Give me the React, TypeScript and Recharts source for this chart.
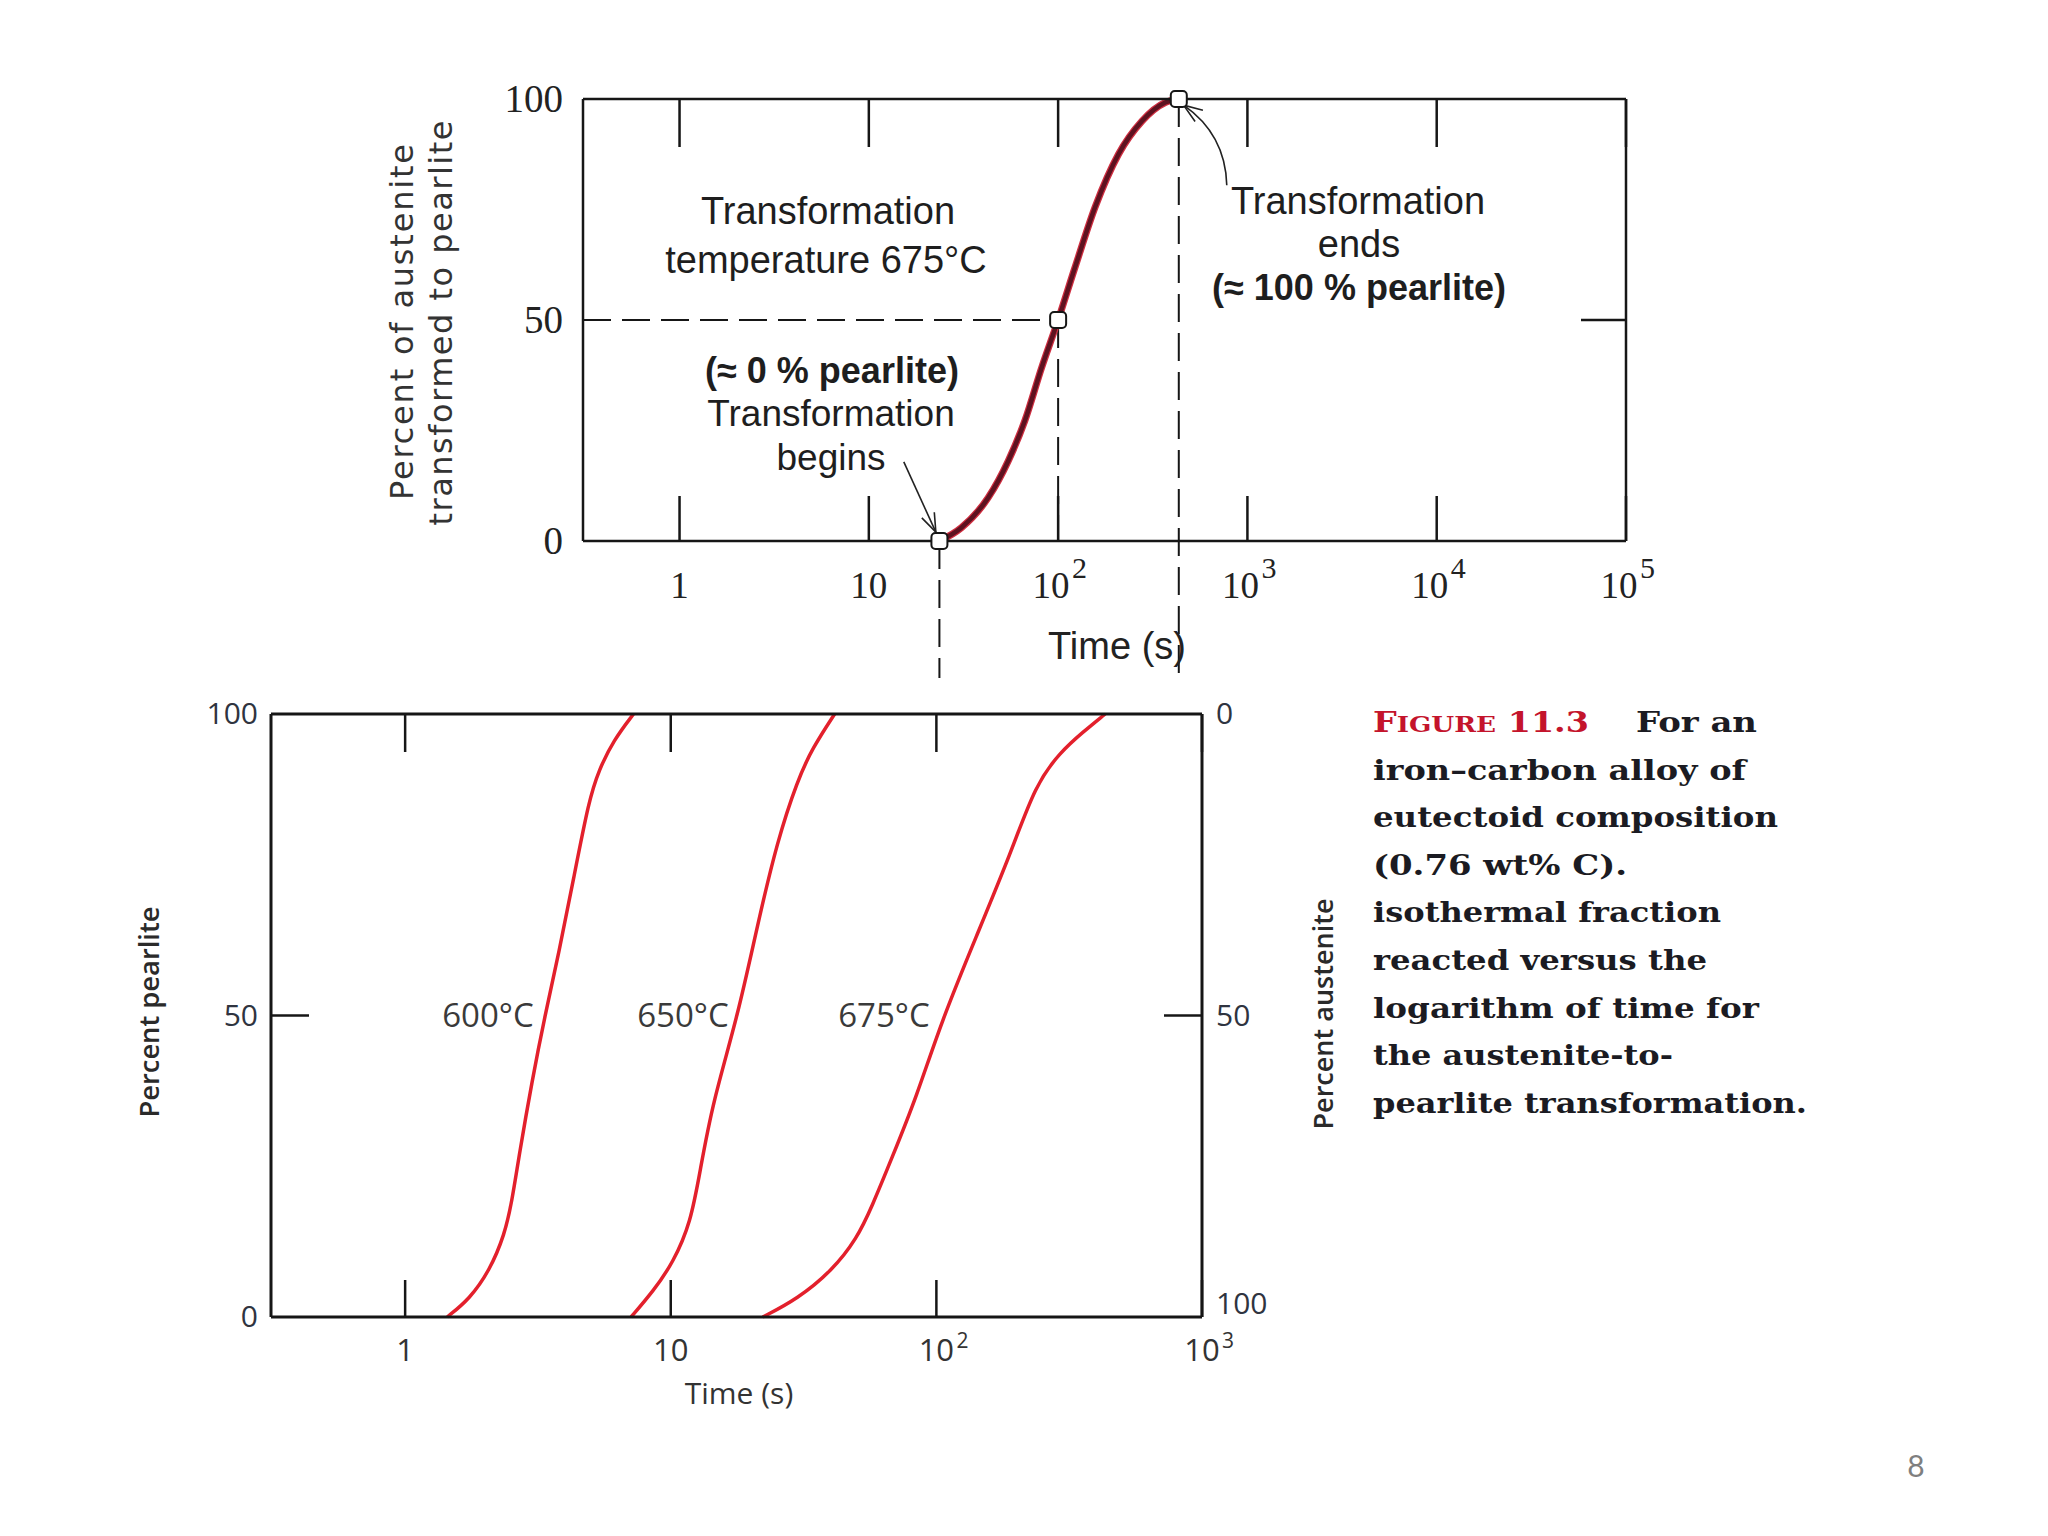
import React from "react";
import {
  ComposedChart,
  Line,
  Scatter,
  XAxis,
  YAxis,
  ReferenceLine,
} from "recharts";

// top chart: 675°C transformation curve (time in s, percent pearlite)
const topTime = [23.6, 30.8, 42.7, 54.5, 66.7, 81.8, 100, 122.8, 156.7, 208.4, 277.3, 368, 434];
const topPearlite = [0, 3.0, 9.8, 18.1, 27.2, 39.2, 50, 61.9, 75.5, 87.5, 95.0, 99.2, 100];

// begins / half / ends markers
const markTime = [23.6, 100, 434];
const markPearlite = [0, 50, 100];

// arrow anchors (data coords): [tailTime, tailPct, tipTime, tipPct]
const beginsArrow = [15.3, 17.9, 22.6, 2.0];
const endsArrow = [778, 80.5, 460, 98.6];

const topXTicks = [1, 10, 100, 1000, 10000, 100000];
const topYTicks = [0, 50, 100];

// bottom chart: three temperatures
const time600 = [1.44, 1.75, 2.08, 2.37, 2.52, 2.69, 3.0, 3.36, 3.79, 4.32, 4.92, 5.36, 6.1, 7.24];
const pearlite600 = [0, 3, 7.7, 13.7, 19, 27, 39, 50, 60.3, 73, 85.7, 90.7, 95.7, 100];

const time650 = [7.09, 8.6, 10.2, 11.9, 12.9, 14.4, 17.9, 21.2, 25.2, 30.0, 34.1, 41.4];
const pearlite650 = [0, 4.3, 9, 15.7, 24.3, 35.7, 50, 65, 79, 89, 94.3, 100];

const time675 = [22.2, 30, 40.5, 50.2, 57.2, 67.9, 84.2, 104.4, 141, 191, 236, 293, 356, 432];
const pearlite675 = [0, 3, 7.7, 13, 18.3, 26.3, 36.5, 49, 63, 77, 88.3, 93.7, 97, 100];

const bottomXTicks = [1, 10, 100, 1000];
const bottomYTicks = [0, 50, 100];
const curveLabels = ["600°C", "650°C", "675°C"];

const captionLines = [
  "iron–carbon alloy of",
  "eutectoid composition",
  "(0.76 wt% C).",
  "isothermal fraction",
  "reacted versus the",
  "logarithm of time for",
  "the austenite-to-",
  "pearlite transformation.",
];
const captionWidths = [373, 405, 254, 348, 334, 386, 300, 434];

const zip = (t: number[], p: number[]) => t.map((v, i) => ({ t: v, p: p[i] }));

const TOP_X_DOMAIN = [Math.pow(10, -0.51), 100000];
const BOT_X_DOMAIN = [Math.pow(10, -0.505), 1000];

const INK = "#161616";
const SERIF = "'Liberation Serif', 'Times New Roman', serif";
const SANS = "'Liberation Sans', Arial, sans-serif";
const OPEN = "'Open Sans', 'Noto Sans', sans-serif";

// ---------- tick renderers ----------
function TopBottomTick(props: any) {
  const { x, y, payload } = props;
  const exp = Math.round(Math.log10(payload.value));
  return (
    <g>
      <line x1={x} y1={y} x2={x} y2={y - 45} stroke={INK} strokeWidth={2.5} />
      {exp < 2 ? (
        <text x={x} y={y + 57} textAnchor="middle" fontFamily={SERIF} fontSize={37} fill="#222">
          {exp === 0 ? "1" : "10"}
        </text>
      ) : (
        <g fontFamily={SERIF} fill="#222">
          <text x={x - 7} y={y + 57} textAnchor="middle" fontSize={37}>10</text>
          <text x={x + 14} y={y + 37} fontSize={30}>{exp}</text>
        </g>
      )}
    </g>
  );
}

function TopTopTick(props: any) {
  const { x, y } = props;
  return <line x1={x} y1={y} x2={x} y2={y + 48} stroke={INK} strokeWidth={2.5} />;
}

function TopLeftTick(props: any) {
  const { x, y, payload } = props;
  return (
    <text x={x - 20} y={y + 13} textAnchor="end" fontFamily={SERIF} fontSize={39} fill="#222">
      {payload.value}
    </text>
  );
}

function TopRightTick(props: any) {
  const { x, y } = props;
  return <line x1={x} y1={y} x2={x - 45} y2={y} stroke={INK} strokeWidth={2.5} />;
}

function BotBottomTick(props: any) {
  const { x, y, payload } = props;
  const exp = Math.round(Math.log10(payload.value));
  return (
    <g>
      <line x1={x} y1={y} x2={x} y2={y - 37} stroke={INK} strokeWidth={2.5} />
      <g fontFamily={OPEN} fill="#333">
        <text x={x} y={y + 44} textAnchor="middle" fontSize={31}>
          {exp === 0 ? "1" : "10"}
        </text>
        {exp >= 2 && (
          <text x={x + 20} y={y + 31} fontSize={21}>{exp}</text>
        )}
      </g>
    </g>
  );
}

function BotTopTick(props: any) {
  const { x, y } = props;
  return <line x1={x} y1={y} x2={x} y2={y + 38} stroke={INK} strokeWidth={2.5} />;
}

function BotLeftTick(props: any) {
  const { x, y, payload } = props;
  return (
    <g>
      {payload.value === 50 && (
        <line x1={x} y1={y} x2={x + 38} y2={y} stroke={INK} strokeWidth={2.5} />
      )}
      <text x={x - 13} y={y + 10} textAnchor="end" fontFamily={OPEN} fontSize={30} fill="#2f3440">
        {payload.value}
      </text>
    </g>
  );
}

function BotRightTick(props: any) {
  const { x, y, payload } = props;
  return (
    <g>
      {payload.value === 50 && (
        <line x1={x} y1={y} x2={x - 38} y2={y} stroke={INK} strokeWidth={2.5} />
      )}
      <text
        x={x + 14}
        y={y + (payload.value === 100 ? -3 : 10)}
        fontFamily={OPEN}
        fontSize={30}
        fill="#2f3440"
      >
        {payload.value}
      </text>
    </g>
  );
}

// ---------- marks ----------
function MarkerShape(props: any) {
  const { cx, cy } = props;
  return (
    <rect x={cx - 8} y={cy - 8} width={16} height={16} rx={4} fill="#fff" stroke={INK} strokeWidth={2} />
  );
}

function arrowHead(tx: number, ty: number, fx: number, fy: number) {
  const a = Math.atan2(ty - fy, tx - fx);
  const len = 20;
  const spread = 0.35;
  const p1 = [tx - len * Math.cos(a - spread), ty - len * Math.sin(a - spread)];
  const p2 = [tx - len * Math.cos(a + spread), ty - len * Math.sin(a + spread)];
  return `M${p1[0]},${p1[1]} L${tx},${ty} L${p2[0]},${p2[1]}`;
}

function StraightArrow(props: any) {
  const { x1, y1, x2, y2 } = props;
  return (
    <g fill="none" stroke="#222" strokeWidth={1.6}>
      <line x1={x1} y1={y1} x2={x2} y2={y2} />
      <path d={arrowHead(x2, y2, x1, y1)} />
    </g>
  );
}

function CurvedArrow(props: any) {
  const { x1, y1, x2, y2 } = props;
  const dx = x2 - x1;
  const dy = y2 - y1;
  const len = Math.hypot(dx, dy) || 1;
  const bend = 23;
  const cx = (x1 + x2) / 2 + (-dy / len) * bend;
  const cy = (y1 + y2) / 2 + (dx / len) * bend;
  return (
    <g fill="none" stroke="#222" strokeWidth={1.6}>
      <path d={`M${x1},${y1} Q${cx},${cy} ${x2},${y2}`} />
      <path d={arrowHead(x2, y2, cx, cy)} />
    </g>
  );
}

function TopChart() {
  const curve = zip(topTime, topPearlite);
  const marks = zip(markTime, markPearlite);
  const dash = "28 11";
  return (
    <ComposedChart width={1340} height={660} margin={{ top: 9, right: 0, bottom: 79, left: 0 }}>
      <XAxis
        xAxisId="x"
        dataKey="t"
        type="number"
        scale="log"
        domain={TOP_X_DOMAIN}
        ticks={topXTicks}
        interval={0}
        height={100}
        tickSize={0}
        tickMargin={0}
        tickLine={false}
        axisLine={{ stroke: INK, strokeWidth: 2.5 }}
        tick={<TopBottomTick />}
      />
      <XAxis
        xAxisId="xt"
        orientation="top"
        dataKey="t"
        type="number"
        scale="log"
        domain={TOP_X_DOMAIN}
        ticks={topXTicks}
        interval={0}
        height={30}
        tickSize={0}
        tickMargin={0}
        tickLine={false}
        axisLine={{ stroke: INK, strokeWidth: 2.5 }}
        tick={<TopTopTick />}
      />
      <YAxis
        yAxisId="y"
        dataKey="p"
        type="number"
        domain={[0, 100]}
        ticks={topYTicks}
        interval={0}
        width={223}
        tickSize={0}
        tickMargin={0}
        tickLine={false}
        axisLine={{ stroke: INK, strokeWidth: 2.5 }}
        tick={<TopLeftTick />}
      />
      <YAxis
        yAxisId="yr"
        orientation="right"
        dataKey="p"
        type="number"
        domain={[0, 100]}
        ticks={[50]}
        interval={0}
        width={74}
        tickSize={0}
        tickMargin={0}
        tickLine={false}
        axisLine={{ stroke: INK, strokeWidth: 2.5 }}
        tick={<TopRightTick />}
      />
      <ReferenceLine
        xAxisId="x"
        yAxisId="y"
        segment={[{ x: TOP_X_DOMAIN[0], y: markPearlite[1] }, { x: markTime[1], y: markPearlite[1] }]}
        stroke={INK}
        strokeWidth={2}
        strokeDasharray={dash}
        ifOverflow="visible"
      />
      <ReferenceLine
        xAxisId="x"
        yAxisId="y"
        segment={[{ x: markTime[1], y: markPearlite[1] }, { x: markTime[1], y: markPearlite[0] }]}
        stroke={INK}
        strokeWidth={2}
        strokeDasharray={dash}
        ifOverflow="visible"
      />
      <ReferenceLine
        xAxisId="x"
        yAxisId="y"
        segment={[{ x: markTime[0], y: markPearlite[0] }, { x: markTime[0], y: -31 }]}
        stroke={INK}
        strokeWidth={2}
        strokeDasharray={dash}
        ifOverflow="visible"
      />
      <ReferenceLine
        xAxisId="x"
        yAxisId="y"
        segment={[{ x: markTime[2], y: markPearlite[2] }, { x: markTime[2], y: -31 }]}
        stroke={INK}
        strokeWidth={2}
        strokeDasharray={dash}
        ifOverflow="visible"
      />
      <ReferenceLine
        xAxisId="x"
        yAxisId="y"
        segment={[{ x: beginsArrow[0], y: beginsArrow[1] }, { x: beginsArrow[2], y: beginsArrow[3] }]}
        ifOverflow="visible"
        shape={(p: any) => <StraightArrow {...p} />}
      />
      <ReferenceLine
        xAxisId="x"
        yAxisId="y"
        segment={[{ x: endsArrow[0], y: endsArrow[1] }, { x: endsArrow[2], y: endsArrow[3] }]}
        ifOverflow="visible"
        shape={(p: any) => <CurvedArrow {...p} />}
      />
      {/* invisible copy so the top and right axes get a domain and draw their ticks */}
      <Line
        xAxisId="xt"
        yAxisId="yr"
        data={curve}
        dataKey="p"
        stroke="none"
        dot={false}
        activeDot={false}
        isAnimationActive={false}
      />
      <Line
        xAxisId="x"
        yAxisId="y"
        data={curve}
        dataKey="p"
        type="monotone"
        stroke="#cf2e40"
        strokeWidth={7}
        dot={false}
        isAnimationActive={false}
      />
      <Line
        xAxisId="x"
        yAxisId="y"
        data={curve}
        dataKey="p"
        type="monotone"
        stroke="#5e1220"
        strokeWidth={4.5}
        dot={false}
        isAnimationActive={false}
      />
      <Scatter
        xAxisId="x"
        yAxisId="y"
        data={marks}
        dataKey="p"
        shape={<MarkerShape />}
        isAnimationActive={false}
      />
    </ComposedChart>
  );
}

function BottomChart() {
  const series = [zip(time600, pearlite600), zip(time650, pearlite650), zip(time675, pearlite675)];
  return (
    <ComposedChart width={1240} height={760} margin={{ top: 0, right: 0, bottom: 33, left: 0 }}>
      <XAxis
        xAxisId="x"
        dataKey="t"
        type="number"
        scale="log"
        domain={BOT_X_DOMAIN}
        ticks={bottomXTicks}
        interval={0}
        height={100}
        tickSize={0}
        tickMargin={0}
        tickLine={false}
        axisLine={{ stroke: INK, strokeWidth: 3 }}
        tick={<BotBottomTick />}
      />
      <XAxis
        xAxisId="xt"
        orientation="top"
        dataKey="t"
        type="number"
        scale="log"
        domain={BOT_X_DOMAIN}
        ticks={bottomXTicks}
        interval={0}
        height={24}
        tickSize={0}
        tickMargin={0}
        tickLine={false}
        axisLine={{ stroke: INK, strokeWidth: 3 }}
        tick={<BotTopTick />}
      />
      <YAxis
        yAxisId="y"
        dataKey="p"
        type="number"
        domain={[0, 100]}
        ticks={bottomYTicks}
        interval={0}
        width={171}
        tickSize={0}
        tickMargin={0}
        tickLine={false}
        axisLine={{ stroke: INK, strokeWidth: 3 }}
        tick={<BotLeftTick />}
      />
      <YAxis
        yAxisId="yr"
        orientation="right"
        dataKey="p"
        type="number"
        reversed
        domain={[0, 100]}
        ticks={bottomYTicks}
        interval={0}
        width={138}
        tickSize={0}
        tickMargin={0}
        tickLine={false}
        axisLine={{ stroke: INK, strokeWidth: 3 }}
        tick={<BotRightTick />}
      />
      {/* invisible copy so the top and right axes get a domain and draw their ticks */}
      <Line
        xAxisId="xt"
        yAxisId="yr"
        data={series[2]}
        dataKey="p"
        stroke="none"
        dot={false}
        activeDot={false}
        isAnimationActive={false}
      />
      {series.map((d, i) => (
        <Line
          key={curveLabels[i]}
          xAxisId="x"
          yAxisId="y"
          data={d}
          dataKey="p"
          name={curveLabels[i]}
          type="basis"
          stroke="#e3202c"
          strokeWidth={3.5}
          dot={false}
          isAnimationActive={false}
        />
      ))}
    </ComposedChart>
  );
}

function Overlay() {
  const annot = { fontFamily: SANS, fontSize: 38, fill: "#1e1e1e", textAnchor: "middle" as const };
  const annotBold = { ...annot, fontSize: 36, fontWeight: 700 };
  const capBase = 732;
  const capStep = 47.6;
  return (
    <svg
      width={2048}
      height={1536}
      style={{ position: "absolute", left: 0, top: 0, pointerEvents: "none" }}
    >
      {/* top chart titles */}
      <g fontFamily="'DejaVu Sans', sans-serif" fontSize={32} fill="#333" textAnchor="middle">
        <text x={413} y={322} transform="rotate(-90 413 322)" textLength={356} lengthAdjust="spacing">
          Percent of austenite
        </text>
        <text x={452} y={323} transform="rotate(-90 452 323)" textLength={405} lengthAdjust="spacing">
          transformed to pearlite
        </text>
      </g>
      <text x={1117} y={659} fontFamily={SANS} fontSize={38} fill="#222" textAnchor="middle">
        Time (s)
      </text>

      <text x={828} y={224} {...annot}>Transformation</text>
      <text x={826} y={273} {...annot}>temperature 675°C</text>
      <text x={1358} y={214} {...annot}>Transformation</text>
      <text x={1359} y={257} {...annot}>ends</text>
      <text x={1359} y={300} {...annotBold}>(≈ 100 % pearlite)</text>
      <text x={832} y={383} {...annotBold}>(≈ 0 % pearlite)</text>
      <text x={831} y={426} {...annot} fontSize={37}>Transformation</text>
      <text x={831} y={470} {...annot} fontSize={37}>begins</text>

      {/* bottom chart texts */}
      <g fontFamily={OPEN} fontSize={33} fill="#3a3a3a" textAnchor="middle">
        <text x={488} y={1027}>{curveLabels[0]}</text>
        <text x={683} y={1027}>{curveLabels[1]}</text>
        <text x={884} y={1027}>{curveLabels[2]}</text>
      </g>
      <text x={739} y={1404} fontFamily={OPEN} fontSize={30} fill="#333" textAnchor="middle">
        Time (s)
      </text>
      <g fontFamily={OPEN} fontSize={27} fontWeight={600} fill="#2a2a2a" textAnchor="middle">
        <text x={159} y={1012} transform="rotate(-90 159 1012)" textLength={211} lengthAdjust="spacingAndGlyphs">
          Percent pearlite
        </text>
        <text x={1333} y={1014} transform="rotate(-90 1333 1014)" textLength={231} lengthAdjust="spacingAndGlyphs">
          Percent austenite
        </text>
      </g>

      {/* caption */}
      <g fontFamily="'DejaVu Serif', serif" fontWeight={700} fontSize={28}>
        <text x={1373} y={capBase} fill="#c4142c" textLength={216} lengthAdjust="spacingAndGlyphs">
          F<tspan fontSize={22}>IGURE</tspan> 11.3
        </text>
        <text x={1636} y={capBase} fill="#1b1b22" textLength={121} lengthAdjust="spacingAndGlyphs">
          For an
        </text>
        {captionLines.map((line, i) => (
          <text
            key={line}
            x={1373}
            y={capBase + capStep * (i + 1)}
            fill="#1b1b22"
            textLength={captionWidths[i]}
            lengthAdjust="spacingAndGlyphs"
          >
            {line}
          </text>
        ))}
      </g>

      <text x={1916} y={1477} fontFamily="Lato, 'Open Sans', sans-serif" fontSize={30} fill="#7f7f7f" textAnchor="middle">
        8
      </text>
    </svg>
  );
}

export default function App() {
  return (
    <div
      style={{
        position: "absolute",
        left: 0,
        top: 0,
        width: 2048,
        height: 1536,
        background: "#fff",
        overflow: "hidden",
      }}
    >
      <div style={{ position: "absolute", left: 360, top: 60 }}>
        <TopChart />
      </div>
      <div style={{ position: "absolute", left: 100, top: 690 }}>
        <BottomChart />
      </div>
      <Overlay />
    </div>
  );
}
